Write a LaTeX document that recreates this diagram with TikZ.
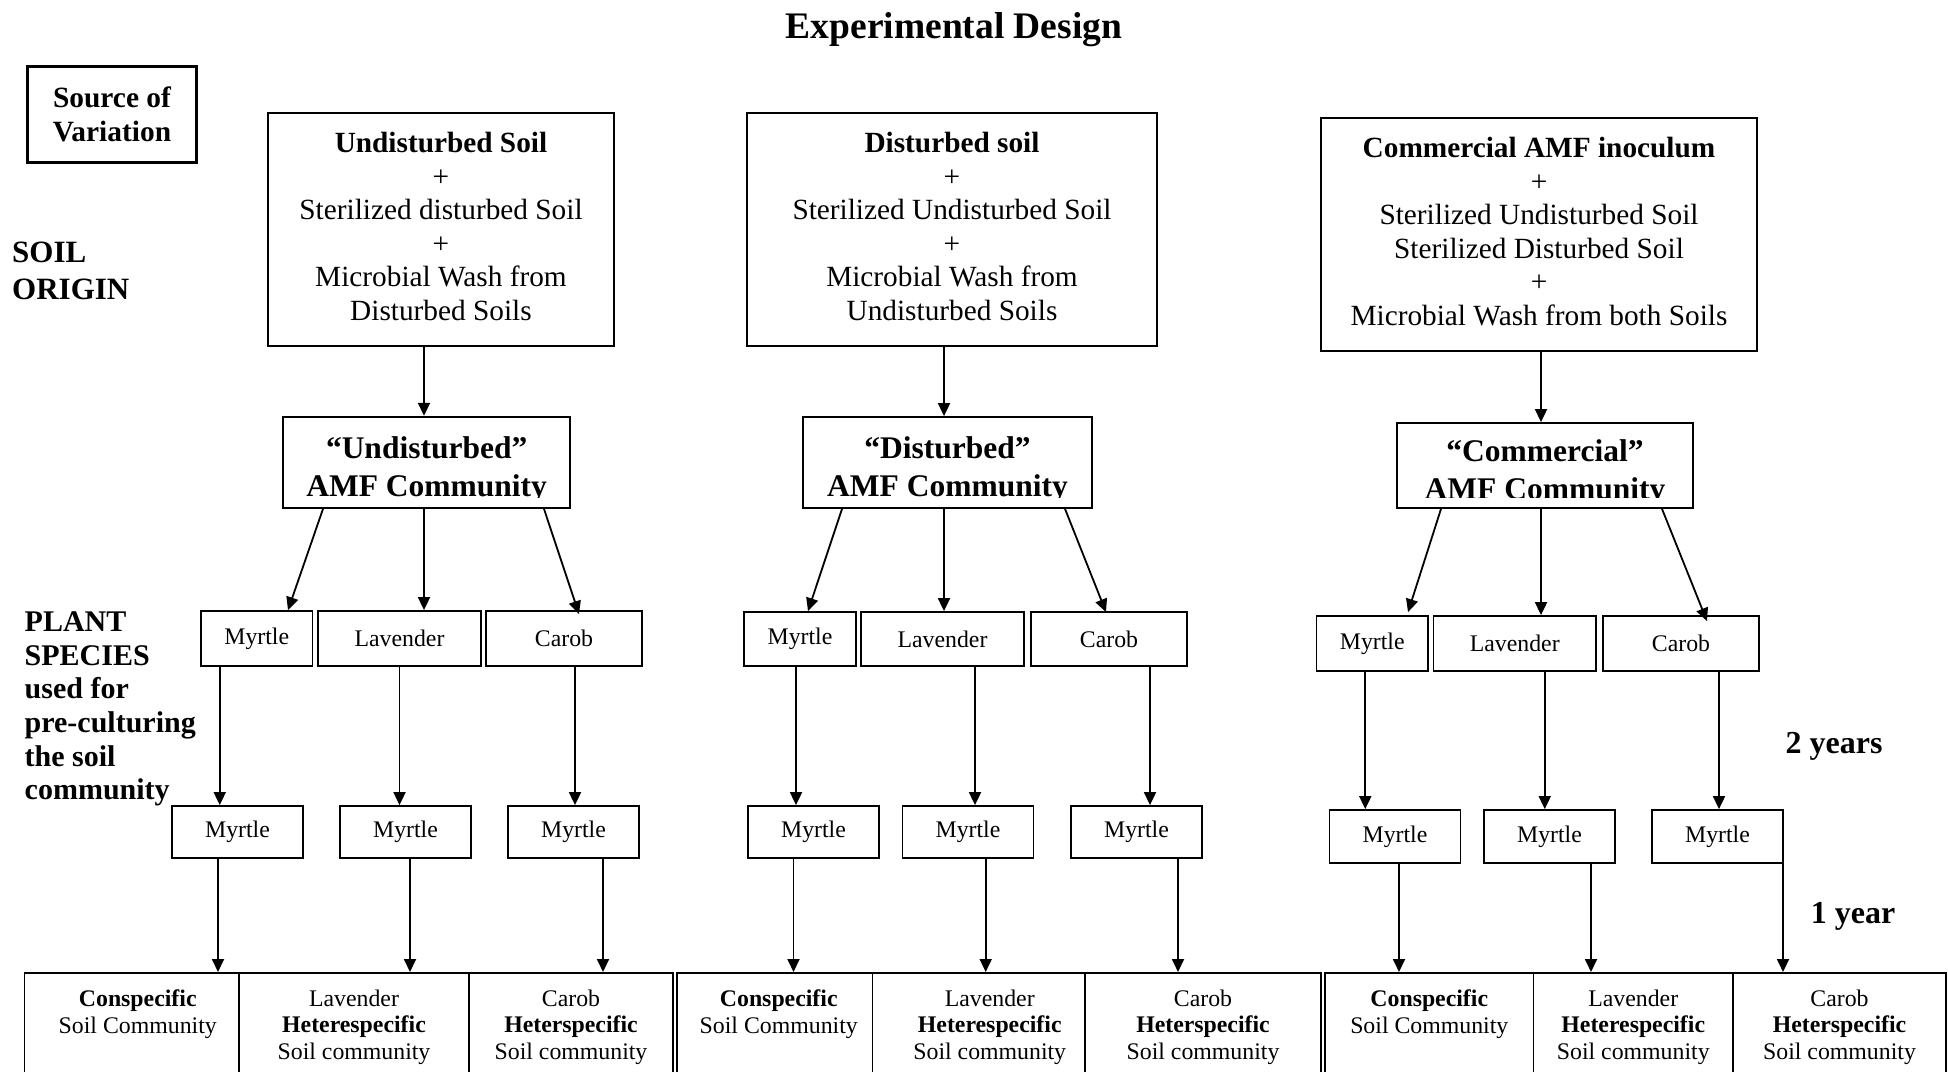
\documentclass[tikz,border=0pt]{standalone}
\usepackage{fontspec}
\setmainfont{Liberation Serif}
\usetikzlibrary{arrows.meta,calc,positioning}
\tikzset{box/.style={draw,line width=1.8pt,align=center,inner sep=0pt,text depth=6pt,font=\fontsize{29.3}{33.5}\selectfont},
  amfbox/.style={draw,line width=1.8pt,inner sep=0pt,
    path picture={\clip ([yshift=11pt]path picture bounding box.south west) rectangle (path picture bounding box.north east);
      \node[anchor=north,align=center,inner sep=0pt,font=\bfseries\fontsize{31.5}{38}\selectfont]
        at ([yshift=-6.5pt]path picture bounding box.north) {#1};}},
  plant/.style={draw,line width=1.8pt,inner sep=0pt,minimum height=55pt,font=\fontsize{23.8}{26.5}\selectfont},
  myrtle/.style={plant,minimum width=131pt,minimum height=52pt},
  cell/.style={draw,line width=1.8pt,anchor=north,minimum height=130pt},
  celltext/.style={align=center,inner sep=0pt,font=\fontsize{23.8}{26.5}\selectfont},
  side/.style={align=left,anchor=west,inner sep=0pt,font=\bfseries\fontsize{30}{33.6}\selectfont},
  years/.style={inner sep=0pt,font=\bfseries\fontsize{32}{36}\selectfont},
  arr/.style={-{Triangle[length=13pt,width=12pt]},line width=1.8pt}}

\begin{document}
\begin{tikzpicture}[x=1pt,y=-1pt]
\useasboundingbox (0,0) rectangle (1948,1071);
\node[font=\bfseries\fontsize{37.5}{40}\selectfont] (title) at (954,30) {Experimental Design};
\node[draw,line width=3pt,align=center,inner sep=0pt,minimum width=169.5pt,minimum height=96pt,
  font=\bfseries\fontsize{29.4}{34}\selectfont] (source) at (112,114.5) {Source of\\Variation};
% row labels
\node[side,font=\bfseries\fontsize{31}{37}\selectfont] (soil) at (12,271) {SOIL\\ORIGIN};
\node[side] (species) at (24.5,709) {PLANT\\SPECIES\\used for\\pre-culturing\\the soil\\community};
\node[years] (two) at (1834,746) {2 years};
\node[years] (one) at (1853,916) {1 year};
% soil origin
\node[box,minimum width=346pt,minimum height=233pt] (srcU) at (441,229.5)
  {\textbf{Undisturbed Soil}\\+\\Sterilized disturbed Soil\\+\\Microbial Wash from\\Disturbed Soils};
\node[box,minimum width=410pt,minimum height=233pt] (srcD) at (952,229.5)
  {\textbf{Disturbed soil}\\+\\Sterilized Undisturbed Soil\\+\\Microbial Wash from\\Undisturbed Soils};
\node[box,minimum width=436pt,minimum height=233pt] (srcC) at (1539,234.5)
  {\textbf{Commercial AMF inoculum}\\+\\Sterilized Undisturbed Soil\\Sterilized Disturbed Soil\\+\\Microbial Wash from both Soils};
% AMF communities
\node[amfbox={“Undisturbed”\\AMF Community},minimum width=286.7pt,minimum height=91.3pt] (amfU) at (426.65,462.35) {};
\node[amfbox={“Disturbed”\\AMF Community},minimum width=289pt,minimum height=91pt] (amfD) at (947.5,462.5) {};
\node[amfbox={“Commercial”\\AMF Community},minimum width=296pt,minimum height=85pt] (amfC) at (1545,465.5) {};
% pre-culturing plants
\node[plant,minimum width=111.5pt] (myU) at (256.75,638.5) {Myrtle};
\node[plant,minimum width=163pt] (lavU) at (399.5,638.5) {Lavender};
\node[plant,minimum width=156pt] (carU) at (564,638.5) {Carob};
\node[plant,minimum width=112pt,minimum height=54pt] (myD) at (800,639) {Myrtle};
\node[plant,minimum width=163pt,minimum height=54pt] (lavD) at (942.5,639) {Lavender};
\node[plant,minimum width=156pt,minimum height=54pt] (carD) at (1109,639) {Carob};
\node[plant,minimum width=111.5pt] (myC) at (1372.25,643.5) {Myrtle};
\node[plant,minimum width=162.5pt] (lavC) at (1514.75,643.5) {Lavender};
\node[plant,minimum width=155.7pt] (carC) at (1681,643.5) {Carob};
% myrtle
\node[myrtle] (m2Ua) at (237.5,832) {Myrtle};
\node[myrtle] (m2Ub) at (405.5,832) {Myrtle};
\node[myrtle] (m2Uc) at (573.5,832) {Myrtle};
\node[myrtle] (m2Da) at (813.5,832) {Myrtle};
\node[myrtle] (m2Db) at (968,832) {Myrtle};
\node[myrtle] (m2Dc) at (1136.5,832) {Myrtle};
\node[myrtle,minimum height=53pt] (m2Ca) at (1395,836.5) {Myrtle};
\node[myrtle,minimum height=53pt] (m2Cb) at (1549.5,836.5) {Myrtle};
\node[myrtle,minimum height=53pt] (m2Cc) at (1717.5,836.5) {Myrtle};
% soil communities
\node[cell,minimum width=214.5pt] (conU) at (131.75,972) {};
\node[cell,minimum width=230pt] (hetlU) at (354,972) {};
\node[cell,minimum width=204pt] (hetcU) at (571,972) {};
\node[cell,minimum width=195.5pt] (conD) at (774.75,972) {};
\node[cell,minimum width=212.5pt] (hetlD) at (978.75,972) {};
\node[cell,minimum width=236pt] (hetcD) at (1203,972) {};
\node[cell,minimum width=208.5pt] (conC) at (1429.25,972) {};
\node[cell,minimum width=199.5pt] (hetlC) at (1633.25,972) {};
\node[cell,minimum width=213pt] (hetcC) at (1839.5,972) {};
\foreach \c/\sa/\sb in {U/6/0,D/4/11,C/0/0}{
  \node[celltext,below=17.7pt of con\c.north,xshift=\sa pt] (tcon\c) {\textbf{Conspecific}\\Soil Community};
  \node[celltext,below=17.7pt of hetl\c.north,xshift=\sb pt] (thetl\c) {Lavender\\\textbf{Heterespecific}\\Soil community};
  \node[celltext,below=17.7pt of hetc\c.north] (thetc\c) {Carob\\\textbf{Heterspecific}\\Soil community};
}
% arrows
\foreach \a/\b/\dx in {srcU/amfU/-2.65,srcD/amfD/-3.5,srcC/amfC/-4}
  \draw[arr] ($(\b.north |- \a.south)+(\dx,0)$) -- ($(\b.north)+(\dx,0)$);
\foreach \a/\dxa/\b/\dxb/\dyb in {amfU/-103.65/myU/31.25/0,amfU/-2.65/lavU/24.5/0,amfU/117.35/carU/15/4,
  amfD/-105.5/myD/8/0,amfD/-3.5/lavD/1.5/0,amfD/117.5/carD/-3/1,
  amfC/-104/myC/35.75/-3,amfC/-4/lavC/26.25/0,amfC/117/carC/26/6}
  \draw[arr] ($(\a.south)+(\dxa,0)$) -- ($(\b.north)+(\dxb,\dyb)$);
\foreach \a/\b/\dx in {myU/m2Ua/-37,lavU/m2Ub/0,carU/m2Uc/11,myD/m2Da/-4,lavD/m2Db/32.5,carD/m2Dc/41,
  myC/m2Ca/-7,lavC/m2Cb/30,carC/m2Cc/38}
  \draw[arr] ($(\a.south)+(\dx,0)$) -- ($(\b.north -| \a.south)+(\dx,0)$);
\foreach \a/\b/\dx in {m2Ua/conU/-19.5,m2Ub/hetlU/4.5,m2Uc/hetcU/29.5,m2Da/conD/-20,m2Db/hetlD/17.7,m2Dc/hetcD/41.5,
  m2Ca/conC/4,m2Cb/hetlC/41.5,m2Cc/hetcC/65.5}
  \draw[arr] ($(\a.south)+(\dx,0)$) -- ($(\b.north -| \a.south)+(\dx,0)$);
\end{tikzpicture}
\end{document}
